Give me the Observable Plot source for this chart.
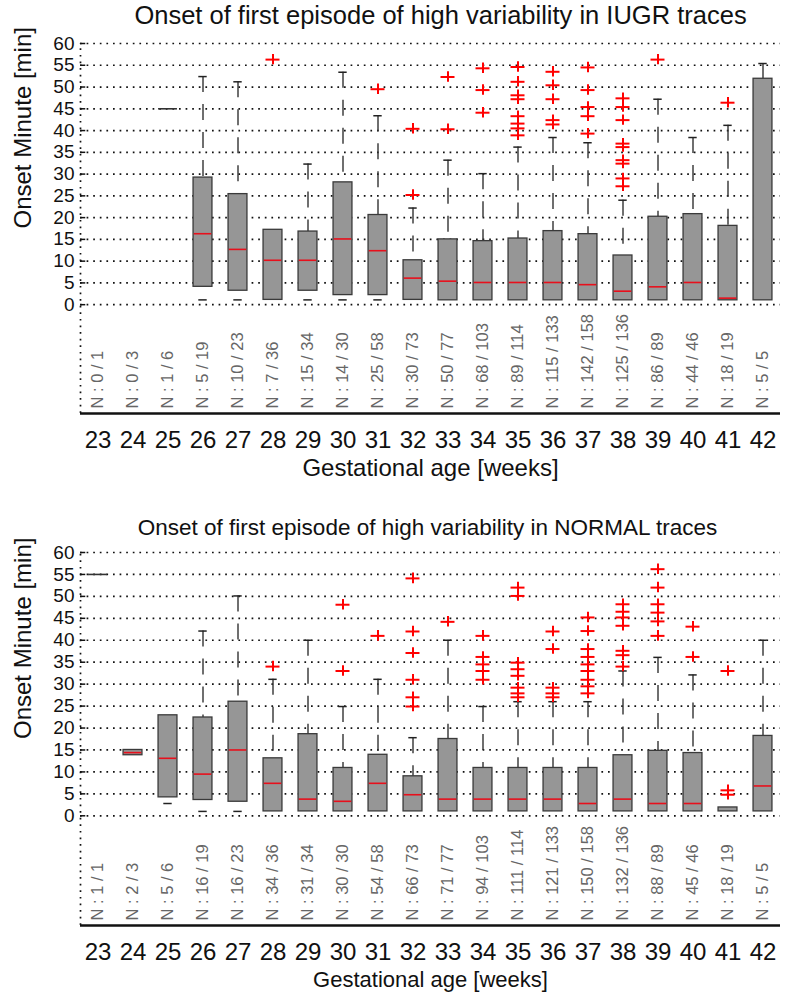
<!DOCTYPE html>
<html><head><meta charset="utf-8">
<script src="https://cdn.jsdelivr.net/npm/d3@7"></script>
<script src="https://cdn.jsdelivr.net/npm/@observablehq/plot@0.6"></script>
<style>
body{margin:0;background:#fff;}
#chart svg{display:block;}
</style>
</head><body><div id="chart"></div>
<script>
// ---------- data ----------
const weeks = [23,24,25,26,27,28,29,30,31,32,33,34,35,36,37,38,39,40,41,42];
const yTicks = [0,5,10,15,20,25,30,35,40,45,50,55,60];

// IUGR panel
const iugrQ1  = [null,null,45,4.1,3.2,1.1,3.2,2.2,2.2,1.1,1.0,1.0,1.0,1.0,1.0,1.0,1.0,1.0,1.0,1.0];
const iugrMed = [null,null,null,16.3,12.7,10.2,10.2,15.1,12.4,6.1,5.4,5.1,5.1,5.1,4.6,3.1,4.1,5.1,1.5,null];
const iugrQ3  = [null,null,45,29.2,25.4,17.2,16.8,28.1,20.6,10.2,15.0,14.6,15.2,16.9,16.2,11.3,20.2,20.8,18.1,51.9];
const iugrLo  = [null,null,45,1.1,1.1,1.1,1.1,1.1,1.1,1.1,1.0,1.0,1.0,1.0,1.0,1.0,1.0,1.0,1.0,1.0];
const iugrHi  = [null,null,45,52.4,51.2,17.2,32.3,53.4,43.4,22.2,33.2,30.1,36.2,38.4,37.2,24.0,47.2,38.4,41.2,55.4];
const iugrOut = [[],[],[],[],[],[56.3],[],[],[49.5],[40.4,25.2],[52.3,40.3],[54.3,49.3,44.1],
  [54.6,51.2,48.1,47.2,43.3,41.6,40.5,38.9],[53.5,50.4,47.2,42.4,41.4],[54.5,49.3,45.4,43.3,39.3],
  [47.4,45.4,42.4,37.0,36.2,33.2,32.4,29.0,27.2],[56.3],[],[46.4],[]];
const iugrN = ["N : 0 / 1","N : 0 / 3","N : 1 / 6","N : 5 / 19","N : 10 / 23","N : 7 / 36","N : 15 / 34",
  "N : 14 / 30","N : 25 / 58","N : 30 / 73","N : 50 / 77","N : 68 / 103","N : 89 / 114","N : 115 / 133",
  "N : 142 / 158","N : 125 / 136","N : 86 / 89","N : 44 / 46","N : 18 / 19","N : 5 / 5"];

// NORMAL panel
const normQ1  = [55,13.8,4.2,3.6,3.2,1.0,1.0,1.0,1.0,1.0,1.0,1.0,1.0,1.0,1.0,1.0,1.0,1.0,1.0,1.0];
const normMed = [null,14.4,13.1,9.5,15.0,7.4,3.8,3.3,7.4,4.8,3.8,3.8,3.8,3.8,2.8,3.8,2.8,2.8,null,6.8];
const normQ3  = [55,15.0,22.9,22.4,26.0,13.1,18.6,10.9,13.9,9.0,17.5,10.9,10.9,10.9,10.9,13.8,14.8,14.3,1.9,18.2];
const normLo  = [55,13.8,2.8,1.0,1.0,1.0,1.0,1.0,1.0,1.0,1.0,1.0,1.0,1.0,1.0,1.0,1.0,1.0,1.0,1.0];
const normHi  = [55,15.0,22.9,42.1,50.1,31.1,40.0,24.9,31.1,17.8,40.0,24.9,26.0,26.0,26.0,33.0,36.1,32.1,1.9,40.0];
const normOut = [[],[],[],[],[],[34.0],[],[48.1,33.0],[41.0],[54.1,42.0,37.1,31.0,27.0,24.9],[44.2],
  [41.0,36.2,34.5,33.0,31.0],[52.0,50.1,34.9,33.4,31.9,29.2,27.9,27.0],[42.0,38.0,29.2,27.9,27.0],
  [45.2,42.1,38.0,36.2,34.5,33.0,31.0,29.5,27.9],[48.2,46.5,45.2,43.3,37.6,36.6,34.0],
  [56.2,52.0,48.2,46.3,44.3,41.0],[43.1,36.2],[5.8,4.8,33.0],[]];
const normN = ["N : 1 / 1","N : 2 / 3","N : 5 / 6","N : 16 / 19","N : 16 / 23","N : 34 / 36","N : 31 / 34",
  "N : 30 / 30","N : 54 / 58","N : 66 / 73","N : 71 / 77","N : 94 / 103","N : 111 / 114","N : 121 / 133",
  "N : 150 / 158","N : 132 / 136","N : 88 / 89","N : 45 / 46","N : 18 / 19","N : 5 / 5"];

const titles = ["Onset of first episode of high variability in IUGR traces",
                "Onset of first episode of high variability in NORMAL traces"];
const yTitle = "Onset Minute [min]";
const xTitle = "Gestational age [weeks]";

// ---------- drawing ----------
const FONT = "'Liberation Sans', Arial, Helvetica, sans-serif";
const HW = 0.27, CAP = 0.12;

function panel(cfg) {
  const rows = weeks.map((w, i) => ({week: w, q1: cfg.q1[i], med: cfg.med[i], q3: cfg.q3[i], lo: cfg.lo[i], hi: cfg.hi[i]}))
                    .filter(d => d.q1 != null);
  const outs = [];
  weeks.forEach((w, i) => cfg.out[i].forEach(v => outs.push({week: w, v})));
  const yLow = cfg.yLow;
  return Plot.plot({
    width: 800, height: cfg.height,
    marginLeft: 80, marginRight: 20, marginTop: cfg.marginTop, marginBottom: cfg.marginBottom,
    x: {type: "linear", domain: [22.5, 42.5], axis: null},
    y: {domain: [yLow, 60], axis: null},
    style: {fontFamily: FONT, background: "#fff", color: "#111", overflow: "visible"},
    marks: [
      Plot.ruleY(yTicks, {x1: 22.5, x2: 42.5, stroke: "#111", strokeWidth: 1.7, strokeDasharray: "1.7,4.9"}),
      Plot.ruleX([22.5], {y1: yLow, y2: 60, stroke: "#111", strokeWidth: 1.7, strokeDasharray: "1.7,4.9"}),
      Plot.ruleY(yTicks, {x1: 22.5, x2: 22.65, stroke: "#111", strokeWidth: 1.5}),
      Plot.ruleY([yLow], {x1: 22.5, x2: 42.5, stroke: "#111", strokeWidth: 2.6}),
      // whiskers
      Plot.ruleX(rows.filter(d => d.hi > d.q3), {x: "week", y1: "hi", y2: "q3", stroke: "#333", strokeWidth: 1.4, strokeDasharray: "16,12"}),
      Plot.ruleX(rows.filter(d => d.lo < d.q1), {x: "week", y1: "q1", y2: "lo", stroke: "#333", strokeWidth: 1.4, strokeDasharray: "0,14,16,12"}),
      Plot.ruleY(rows.filter(d => d.hi > d.q3), {y: "hi", x1: d => d.week - CAP, x2: d => d.week + CAP, stroke: "#222", strokeWidth: 1.5}),
      Plot.ruleY(rows.filter(d => d.lo < d.q1), {y: "lo", x1: d => d.week - CAP, x2: d => d.week + CAP, stroke: "#222", strokeWidth: 1.5}),
      // boxes
      Plot.rect(rows.filter(d => d.q3 > d.q1), {x1: d => d.week - HW, x2: d => d.week + HW, y1: "q1", y2: "q3", fill: "#969696", stroke: "#3a3a3a", strokeWidth: 1.3}),
      Plot.ruleY(rows.filter(d => d.q3 === d.q1), {y: "q1", x1: d => d.week - HW, x2: d => d.week + HW, stroke: "#333", strokeWidth: 1.6}),
      Plot.ruleY(rows.filter(d => d.med != null), {y: "med", x1: d => d.week - HW + 0.02, x2: d => d.week + HW - 0.02, stroke: "#e8101c", strokeWidth: 1.6}),
      // outliers
      Plot.ruleY(outs, {y: "v", x1: d => d.week - 0.2, x2: d => d.week + 0.2, stroke: "#ff0000", strokeWidth: 2}),
      Plot.ruleX(outs, {x: "week", y1: d => d.v - 1.2, y2: d => d.v + 1.2, stroke: "#ff0000", strokeWidth: 2}),
      // N labels
      Plot.text(cfg.n, {x: (d, i) => weeks[i], y: yLow, text: d => d, rotate: -90, textAnchor: "start", lineAnchor: "middle", dy: -5, fontSize: 16.5, fill: "#666"}),
      // tick labels
      Plot.text(yTicks, {x: 22.5, y: d => d, text: d => String(d), textAnchor: "end", dx: -6, fontSize: 19, fill: "#111"}),
      Plot.text(weeks, {x: d => d, y: yLow, text: d => String(d), dy: 27, lineAnchor: "middle", fontSize: 24, fill: "#111"}),
      // titles
      Plot.text([xTitle], {frameAnchor: "bottom", dy: cfg.xTitleDy, fontSize: cfg.xTitleSize, lineAnchor: "middle", fill: "#111"}),
      Plot.text([yTitle], {frameAnchor: "left", dx: -57, rotate: -90, fontSize: 24, lineAnchor: "middle", fill: "#111"}),
      Plot.text([cfg.title], {frameAnchor: "top", dx: cfg.titleDx, dy: cfg.titleDy, fontSize: cfg.titleSize, lineAnchor: "middle", fill: "#111"})
    ]
  });
}

const root = document.getElementById("chart");
root.appendChild(panel({title: titles[0], q1: iugrQ1, med: iugrMed, q3: iugrQ3, lo: iugrLo, hi: iugrHi, out: iugrOut, n: iugrN,
  height: 500, marginTop: 43, marginBottom: 87, yLow: -25, titleSize: 25.5, titleDy: -28, titleDx: 10, xTitleDy: 55, xTitleSize: 24}));
root.appendChild(panel({title: titles[1], q1: normQ1, med: normMed, q3: normQ3, lo: normLo, hi: normHi, out: normOut, n: normN,
  height: 492, marginTop: 52, marginBottom: 67, yLow: -25, titleSize: 22.5, titleDy: -25, titleDx: -3, xTitleDy: 54, xTitleSize: 22}));
</script></body></html>
